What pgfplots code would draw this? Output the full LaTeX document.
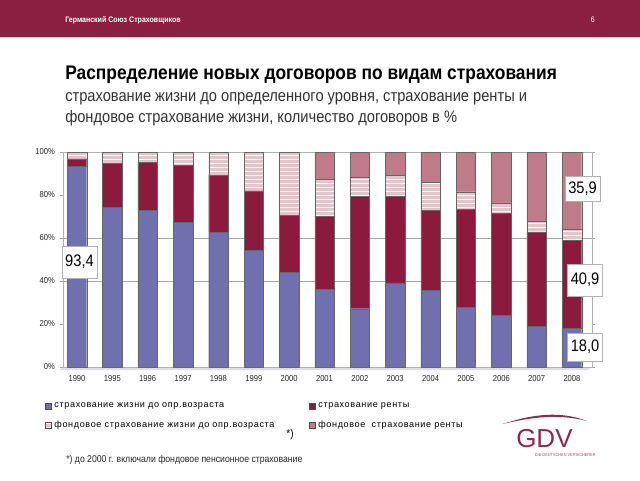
\documentclass[border=0pt]{standalone}
\usepackage{fontspec}
\setmainfont{Liberation Sans}[FakeStretch=0.88]
\newfontfamily\logofont{Liberation Sans}
\newfontfamily\legfont{Liberation Sans}[LetterSpace=7]
\usepackage{pgfplots}
\pgfplotsset{compat=1.18}
\usetikzlibrary{patterns}
\definecolor{banner}{HTML}{8B1F42}
\definecolor{cblue}{HTML}{7070AE}
\definecolor{cred}{HTML}{8C1A3E}
\definecolor{cflife}{HTML}{E3C6CC}
\definecolor{cfrent}{HTML}{BF7B8A}
\definecolor{logo}{HTML}{8E2A4B}
\begin{document}
\begin{tikzpicture}[x=1pt,y=1pt]
\path[use as bounding box] (0pt,0pt) rectangle (480pt,360pt);
% banner
\fill[banner] (0pt,360pt) rectangle (480pt,332.25pt);
\draw[color=pink!80!white, line width=0.6pt] (0pt,331.9pt) -- (480pt,331.9pt);
\node[anchor=west, text=white, inner sep=0, font=\bfseries\fontsize{6}{7}\selectfont] at (48.75pt,345pt) {Германский Союз Страховщиков};
\node[anchor=west, text=white!85!pink, inner sep=0, font=\fontsize{6}{7}\selectfont] at (443pt,345pt) {6};
% title
\node[anchor=base west, inner sep=0, font=\bfseries\fontsize{14.8}{16}\selectfont] at (48.75pt,300.75pt) {Распределение новых договоров по видам страхования};
\node[anchor=base west, inner sep=0, text=black!80, font=\fontsize{12.5}{14}\selectfont] at (48.75pt,284.25pt) {страхование жизни до определенного уровня, страхование ренты и};
\node[anchor=base west, inner sep=0, text=black!80, font=\fontsize{12.5}{14}\selectfont] at (48.75pt,268.5pt) {фондовое страхование жизни, количество договоров в \%};
% floor
\fill[gray!25] (47.25pt,84.75pt) -- (444pt,84.75pt) -- (441pt,82.5pt) -- (44.25pt,82.5pt) -- cycle;
\begin{axis}[
  at={(47.25pt,84.75pt)}, anchor=south west,
  scale only axis, width=396.75pt, height=161.25pt,
  ybar stacked, bar width=0.55,
  xmin=-0.396, xmax=14.566, ymin=0, ymax=100,
  xtick={0,...,14},
  xticklabels={1990,1995,1996,1997,1998,1999,2000,2001,2002,2003,2004,2005,2006,2007,2008},
  xtick style={draw=none},
  ytick={0,20,40,60,80,100},
  yticklabel={\pgfmathprintnumber{\tick}\%},
  /pgf/number format/assume math mode=true,
  tick label style={font=\fontsize{6.5}{7}\selectfont, text=black!85},
  ytick style={gray!70}, tick align=outside, major tick length=2.5pt,
  axis line style={gray!60},
  extra y ticks={40,60}, extra y tick labels={},
  extra y tick style={grid=major, major grid style={gray!70, line width=0.5pt}, tick style={draw=none}},
  legend columns=2,
  legend cell align=left,
  legend image code/.code={\draw[#1, draw=gray!60!black] (0pt,-2.3pt) rectangle (4.6pt,2.3pt);},
  legend style={at={(-0.0416,-0.14)}, anchor=north west, draw=none, fill=none,
     font=\legfont\fontsize{6.8}{8}\selectfont, row sep=4.5pt,
     /tikz/every even column/.append style={column sep=24pt}},
]
\addplot[fill=cblue, draw=black!60, line width=0.3pt] coordinates {
 (0,93.4) (1,74.4) (2,72.9) (3,67.4) (4,62.5) (5,54.3) (6,43.9) (7,36.1)
 (8,27.1) (9,39.1) (10,35.7) (11,27.9) (12,24.0) (13,18.9) (14,18.0)};
\addlegendentry{страхование жизни до опр.возраста}
\addplot[fill=cred, draw=black!60, line width=0.3pt] coordinates {
 (0,3.4) (1,20.2) (2,22.4) (3,26.4) (4,26.8) (5,27.6) (6,26.7) (7,34.1)
 (8,52.4) (9,40.5) (10,37.2) (11,45.5) (12,47.4) (13,44.0) (14,40.9)};
\addlegendentry{страхование ренты}
\addplot[fill=cflife, draw=black!60, line width=0.3pt, postaction={pattern=horizontal lines, pattern color=white}] coordinates {
 (0,3.2) (1,5.4) (2,4.7) (3,6.2) (4,10.7) (5,18.1) (6,29.4) (7,17.0)
 (8,8.7) (9,9.7) (10,12.9) (11,8.0) (12,4.9) (13,4.7) (14,5.2)};
\addlegendentry{фондовое страхование жизни до опр.возраста}
\addplot[fill=cfrent, draw=black!60, line width=0.3pt] coordinates {
 (0,0) (1,0) (2,0) (3,0) (4,0) (5,0) (6,0) (7,12.8)
 (8,11.8) (9,10.7) (10,14.2) (11,18.6) (12,23.7) (13,32.4) (14,35.9)};
\addlegendentry{фондовое\ \ страхование ренты}
\coordinate (l1) at (axis cs:0.07,48.9);
\coordinate (l2) at (axis cs:14.3,82.8);
\coordinate (l3) at (axis cs:14.37,40.5);
\coordinate (l4) at (axis cs:14.37,9.3);
\end{axis}
\tikzset{lab/.style={fill=white, draw=gray!60, inner sep=2pt, minimum width=26pt, font=\fontsize{12.5}{13}\selectfont}}
\node[lab, minimum height=24pt] at (l1) {93,4};
\node[lab, minimum height=19pt] at (l2) {35,9};
\node[lab, minimum height=24pt] at (l3) {40,9};
\node[lab, minimum height=21pt] at (l4) {18,0};
\node[anchor=center, inner sep=0, font=\fontsize{8.5}{9}\selectfont] at (217.5pt,34pt) {*)};
\node[anchor=base west, inner sep=0, text=black!85, font=\fontsize{7.4}{8}\selectfont] at (49.5pt,13.5pt) {*) до 2000 г. включали фондовое пенсионное страхование};
% logo
\fill[logo] (377pt,42pt) .. controls (400pt,49.5pt) and (420pt,52pt) .. (440.5pt,44.2pt) .. controls (420pt,49.6pt) and (400pt,47.5pt) .. (377pt,42pt) -- cycle;
\node[anchor=base west, inner sep=0, text=logo, font=\logofont\fontsize{19.5}{20}\selectfont] at (387pt,24.5pt) {GDV};
\node[anchor=base west, inner sep=0, text=logo!80, font=\fontsize{3.3}{4}\selectfont] at (401pt,18pt) {DIE DEUTSCHEN VERSICHERER};
\end{tikzpicture}
\end{document}
